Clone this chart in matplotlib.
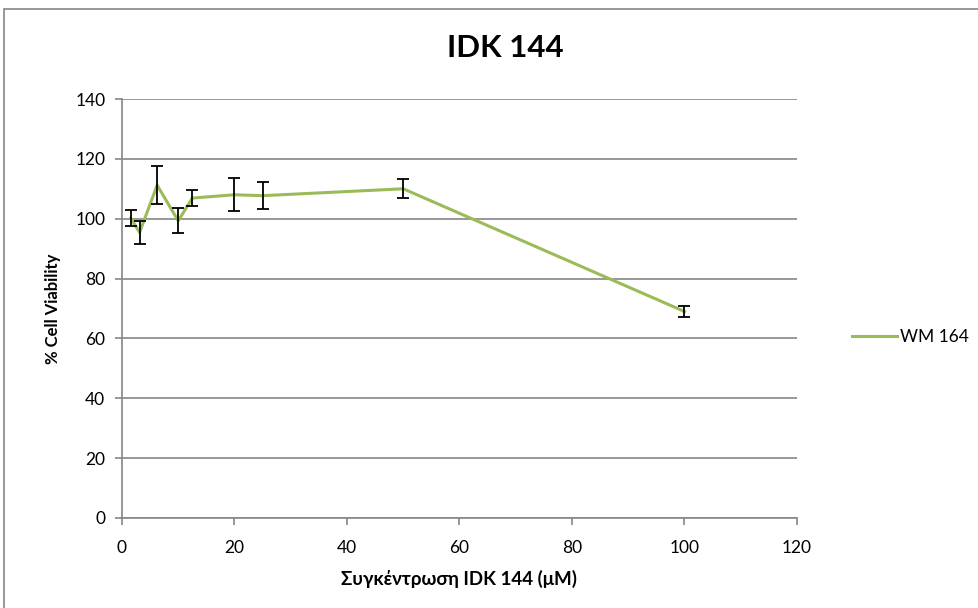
import matplotlib.pyplot as plt
from matplotlib.patches import Rectangle

# concentrations (uM) and viability (%)
conc = [1.5625, 3.125, 6.25, 10, 12.5, 20, 25, 50, 100]
viability = [100.2, 95.4, 111.2, 99.3, 106.9, 108.0, 107.7, 110.0, 69.0]
errors = [2.7, 3.7, 6.3, 4.2, 2.6, 5.5, 4.6, 3.2, 2.0]

x_ticks = [0, 20, 40, 60, 80, 100, 120]
y_ticks = [0, 20, 40, 60, 80, 100, 120, 140]

plt.rcParams['font.family'] = ['Lato', 'Open Sans', 'DejaVu Sans']

fig = plt.figure(figsize=(9.79, 6.08), dpi=100)
ax = fig.add_axes([122/979, 1-518/608, (797-122)/979, (518-99)/608])

# chart border (Excel style)
fig.patches.append(Rectangle((4/979, -0.05), 1.1, 1 - 9/608 + 0.05, transform=fig.transFigure,
                             fill=False, edgecolor='#868686', linewidth=1.2))

grid_col = '#868686'
ax.set_xlim(0, 120)
ax.set_ylim(0, 140)
ax.set_xticks(x_ticks)
ax.set_yticks(y_ticks)
ax.grid(axis='y', color=grid_col, linewidth=1.2)
ax.set_axisbelow(True)
for s in ['top', 'right']:
    ax.spines[s].set_visible(False)
for s in ['left', 'bottom']:
    ax.spines[s].set_color(grid_col)
    ax.spines[s].set_linewidth(1.2)
ax.tick_params(axis='both', colors=grid_col, length=5, width=1.2, labelsize=12.5, labelcolor='black')
ax.tick_params(axis='y', pad=7)
ax.tick_params(axis='x', pad=11)

ax.plot(conc, viability, color='#9BBB59', linewidth=2.2, label='WM 164', zorder=3)
ax.errorbar(conc, viability, yerr=errors, fmt='none', ecolor='black', elinewidth=1.3,
            capsize=4, capthick=1.3, zorder=4)

fig.text(505/979, 1-48/608, 'IDK 144', fontsize=22.5, fontweight='bold', ha='center', va='center')
ax.set_xlabel('Συγκέντρωση IDK 144 (μM)', fontsize=13.5, fontweight='bold', labelpad=10)
ax.set_ylabel('% Cell Viability', fontsize=12, fontweight='bold', labelpad=10)

fig.legend(loc='center left', bbox_to_anchor=(836/979, 1-337/608), frameon=False,
           fontsize=12.5, handlelength=2.6, handletextpad=0.2)

fig.savefig('out.png', dpi=100)
